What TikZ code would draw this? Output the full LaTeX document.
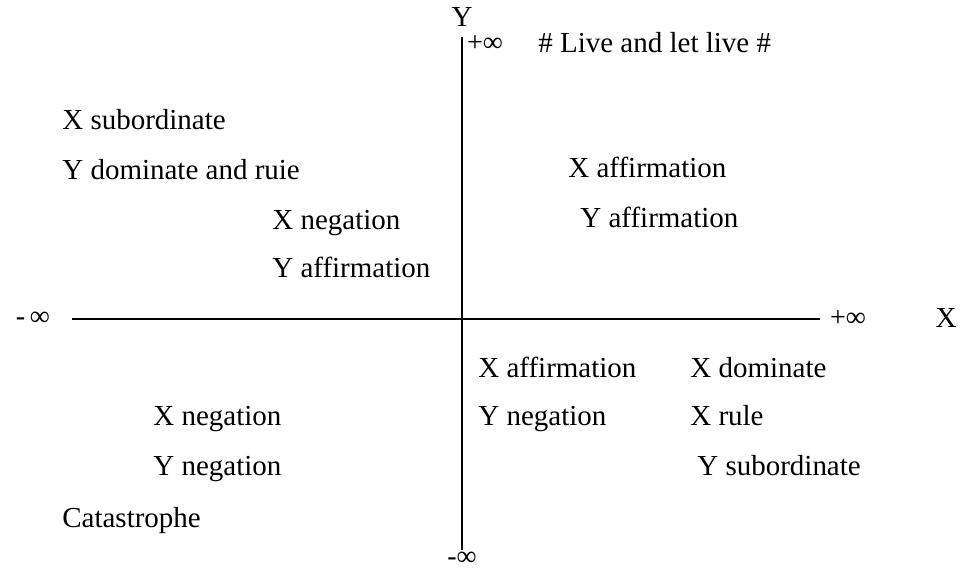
\documentclass[tikz,border=0pt]{standalone}
\usepackage{fontspec}
\setmainfont{Liberation Serif}
\usetikzlibrary{positioning,calc}

\begin{document}
\begin{tikzpicture}[
		x=0.02cm, y=-0.02cm,
		lbl/.style={anchor=base west, yshift=-0.2cm, inner sep=0pt, font=\fontsize{16.5}{19}\selectfont},
		inf/.style={inner sep=1pt, font=\fontsize{16}{18}\selectfont},
		axis/.style={line width=0.65pt}
		]
		\useasboundingbox (0,0) rectangle (964,574);
		% axes and their ends
		\node[lbl, anchor=base] (ylab) at (462,17) {Y};
		\node[inf] (yneg) at (462,559) {-∞};
		\node[inf, anchor=west] (ypos) at (465,44) {+∞};
		\node[inf, anchor=east] (xneg) at (52,319) {-\,∞};
		\node[inf, anchor=west] (xpos) at (828,319) {+∞};
		\node[lbl, anchor=base] (xlab) at (946,318) {X};
		\draw[axis] ($(ylab.south)+(0,10)$) -- (yneg.north);
		\draw[axis] ($(xneg.east)+(20,0)$) -- ($(xpos.west)+(-8,0)$);
		
		% quadrant texts
		\node[lbl] (live)  at (538,43)  {\# Live and let live \#};
		\node[lbl] (xsub)  at (62,120)  {X subordinate};
		\node[lbl] (ydom)  at (62,170)  {Y dominate and ruie};
		\node[lbl] (xneg1) at (272,220) {X negation};
		\node[lbl] (yaff1) at (272,268) {Y affirmation};
		\node[lbl] (xaff1) at (568,168) {X affirmation};
		\node[lbl] (yaff2) at (580,218) {Y affirmation};
		\node[lbl] (xaff2) at (478,368) {X affirmation};
		\node[lbl] (yneg1) at (478,416) {Y negation};
		\node[lbl] (xdom)  at (690,368) {X dominate};
		\node[lbl] (xrule) at (690,416) {X rule};
		\node[lbl] (ysub)  at (697,466) {Y subordinate};
		\node[lbl] (xneg2) at (153,416) {X negation};
		\node[lbl] (yneg2) at (153,466) {Y negation};
		\node[lbl] (cat)   at (62,517)  {Catastrophe};
	\end{tikzpicture}
\end{document}
